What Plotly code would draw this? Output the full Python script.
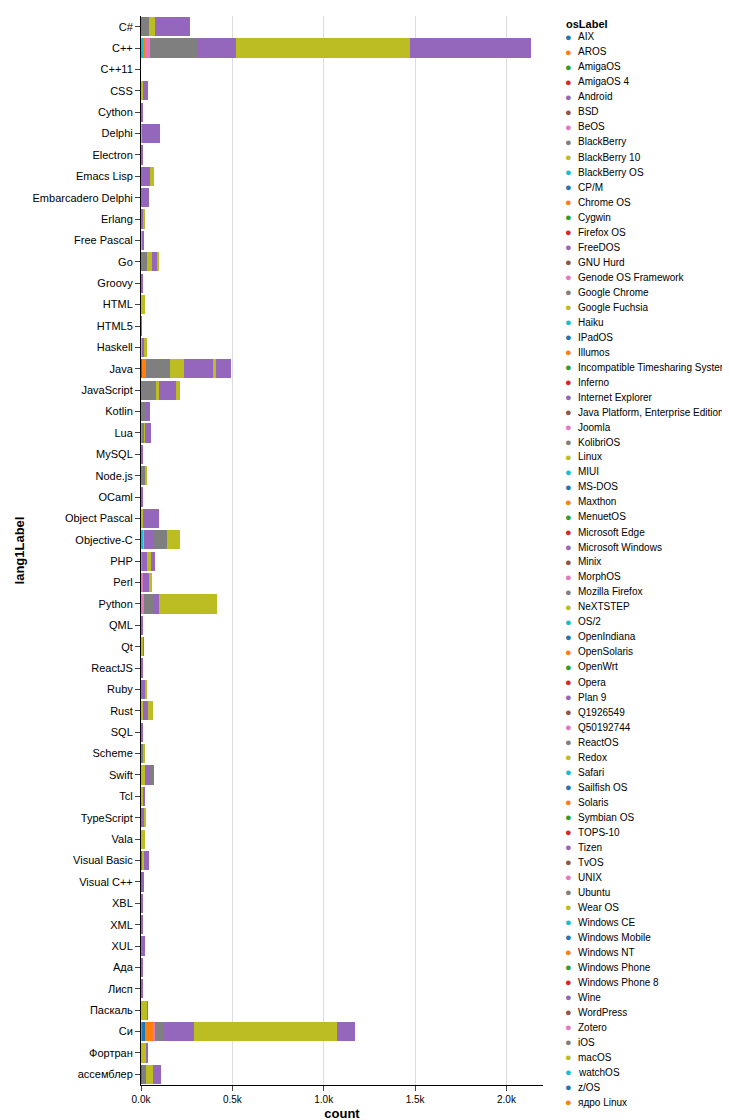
import plotly.graph_objects as go

langs = ["C#","C++","C++11","CSS","Cython","Delphi","Electron","Emacs Lisp","Embarcadero Delphi","Erlang",
"Free Pascal","Go","Groovy","HTML","HTML5","Haskell","Java","JavaScript","Kotlin","Lua",
"MySQL","Node.js","OCaml","Object Pascal","Objective-C","PHP","Perl","Python","QML","Qt",
"ReactJS","Ruby","Rust","SQL","Scheme","Swift","Tcl","TypeScript","Vala","Visual Basic",
"Visual C++","XBL","XML","XUL","Ада","Лисп","Паскаль","Си","Фортран","ассемблер"]

os_labels = ["AIX","AROS","AmigaOS","AmigaOS 4","Android","BSD","BeOS","BlackBerry","BlackBerry 10","BlackBerry OS",
"CP/M","Chrome OS","Cygwin","Firefox OS","FreeDOS","GNU Hurd","Genode OS Framework","Google Chrome","Google Fuchsia","Haiku",
"IPadOS","Illumos","Incompatible Timesharing System","Inferno","Internet Explorer","Java Platform, Enterprise Edition","Joomla","KolibriOS","Linux","MIUI",
"MS-DOS","Maxthon","MenuetOS","Microsoft Edge","Microsoft Windows","Minix","MorphOS","Mozilla Firefox","NeXTSTEP","OS/2",
"OpenIndiana","OpenSolaris","OpenWrt","Opera","Plan 9","Q1926549","Q50192744","ReactOS","Redox","Safari",
"Sailfish OS","Solaris","Symbian OS","TOPS-10","Tizen","TvOS","UNIX","Ubuntu","Wear OS","Windows CE",
"Windows Mobile","Windows NT","Windows Phone","Windows Phone 8","Wine","WordPress","Zotero","iOS","macOS","watchOS",
"z/OS","ядро Linux"]

palette = ["#1f77b4","#ff7f0e","#2ca02c","#d62728","#9467bd","#8c564b","#e377c2","#7f7f7f","#bcbd22","#17becf"]

def col(values):
    d = dict(values)
    return [d.get(l, 0) for l in langs]

amigaos = col({"C++":3,"Object Pascal":5,"Python":5,"Visual Basic":5,"Visual C++":5,"Си":5})
blackberry_os = col({"C++":8,"Objective-C":11,"Си":5})
aix = col({"Java":7,"ассемблер":7,"Си":10})
aros = col({"C++":9,"Java":18,"Lua":5,"PHP":4,"Си":50})
beos = col({"C++":29,"Perl":9,"Python":9,"Си":5})
kolibrios = col({"C#":43,"C++":259,"Go":31,"Java":131,"JavaScript":80,"Kotlin":28,"Lua":15,"Node.js":25,
    "Python":49,"Scheme":16,"XUL":5,"Си":49,"ассемблер":18})
linux = col({"C#":33,"CSS":12,"Delphi":5,"Free Pascal":5,"Go":29,"Haskell":5,"Java":82,"JavaScript":16,"Lua":4,
    "Object Pascal":5,"Objective-C":4,"QML":3,"Qt":11,"ReactJS":3,"Rust":9,"Swift":22,"Tcl":16,"Vala":22,
    "Visual Basic":11,"XBL":5,"Паскаль":33,"Фортран":31,"ассемблер":38,"Cython":2,"Node.js":5,"Scheme":5})
windows = col({"C#":191,"C++":211,"CSS":25,"Cython":8,"Delphi":100,"Electron":8,"Emacs Lisp":49,
    "Embarcadero Delphi":42,"Erlang":14,"Free Pascal":11,"Go":29,"Groovy":10,"HTML5":5,"Haskell":11,
    "Java":158,"JavaScript":93,"Kotlin":22,"Lua":29,"MySQL":9,"OCaml":9,"Object Pascal":91,"Objective-C":55,
    "PHP":27,"Perl":33,"Python":38,"QML":7,"Qt":4,"ReactJS":5,"Ruby":22,"Rust":27,"SQL":10,"Swift":22,
    "Tcl":4,"TypeScript":16,"Visual Basic":27,"Visual C++":11,"XBL":5,"XML":10,"XUL":16,"Ада":10,"Лисп":10,
    "Паскаль":5,"Си":164,"Фортран":5,"ассемблер":44})
ios = col({"Objective-C":71,"Swift":27})
macos = col({"C++":951,"Emacs Lisp":22,"Erlang":7,"Go":5,"HTML":22,"Haskell":16,"Java":16,"JavaScript":22,
    "Objective-C":71,"PHP":22,"Perl":16,"Python":317,"Ruby":9,"Rust":27,"TypeScript":11,"Си":787})
wine = col({"C++":667,"Java":82,"PHP":22,"Си":98})

stack = [("AmigaOS",amigaos),("BlackBerry OS",blackberry_os),("AIX",aix),("AROS",aros),("BeOS",beos),
         ("KolibriOS",kolibrios),("Linux",linux),("Microsoft Windows",windows),("iOS",ios),
         ("macOS",macos),("Wine",wine)]

fig = go.Figure()
for name, vals in stack:
    c = palette[os_labels.index(name) % 10]
    fig.add_trace(go.Bar(x=vals, y=langs, orientation="h", name=name, marker_color=c,
                         marker_line_width=0, showlegend=False))

# hand-laid legend (Vega-style 15px rows)
L, R, T, B = 133, 535, 8, 1077
W, H = R - L, B - T
px = lambda x: (x - L) / W
py = lambda y: (B - y) / H
ann = [dict(x=px(556), y=py(16), xref="paper", yref="paper", text="<b>osLabel</b>",
            showarrow=False, xanchor="left", yanchor="middle", font=dict(size=11))]
for i, name in enumerate(os_labels):
    yy = py(29 + 15 * i)
    ann.append(dict(x=px(560), y=yy, xref="paper", yref="paper", text="●", showarrow=False,
                    xanchor="center", yanchor="middle", font=dict(size=11, color=palette[i % 10])))
    ann.append(dict(x=px(568), y=yy, xref="paper", yref="paper", text=name, showarrow=False,
                    xanchor="left", yanchor="middle", font=dict(size=10)))

fig.update_layout(
    width=730, height=1120, barmode="stack", bargap=0.1,
    plot_bgcolor="white", paper_bgcolor="white", showlegend=False,
    margin=dict(l=L, r=730 - R, t=T, b=1120 - B, autoexpand=False),
    font=dict(family="Liberation Sans, Arial, sans-serif", size=11, color="#000"),
    annotations=ann,
    xaxis=dict(range=[0, 2200], tickvals=[0,500,1000,1500,2000],
               ticktext=["0.0k","0.5k","1.0k","1.5k","2.0k"], showgrid=True, gridcolor="#ddd",
               zeroline=False, showline=True, linecolor="#000", ticks="outside", ticklen=5,
               tickfont=dict(size=10), title=dict(text="<b>count</b>", standoff=4)),
    yaxis=dict(categoryorder="array", categoryarray=langs, autorange="reversed",
               showline=True, linecolor="#000", ticks="outside", ticklen=5, showgrid=False,
               title=dict(text="<b>lang1Label</b>", standoff=4)),
)
fig.write_html("out.html")
